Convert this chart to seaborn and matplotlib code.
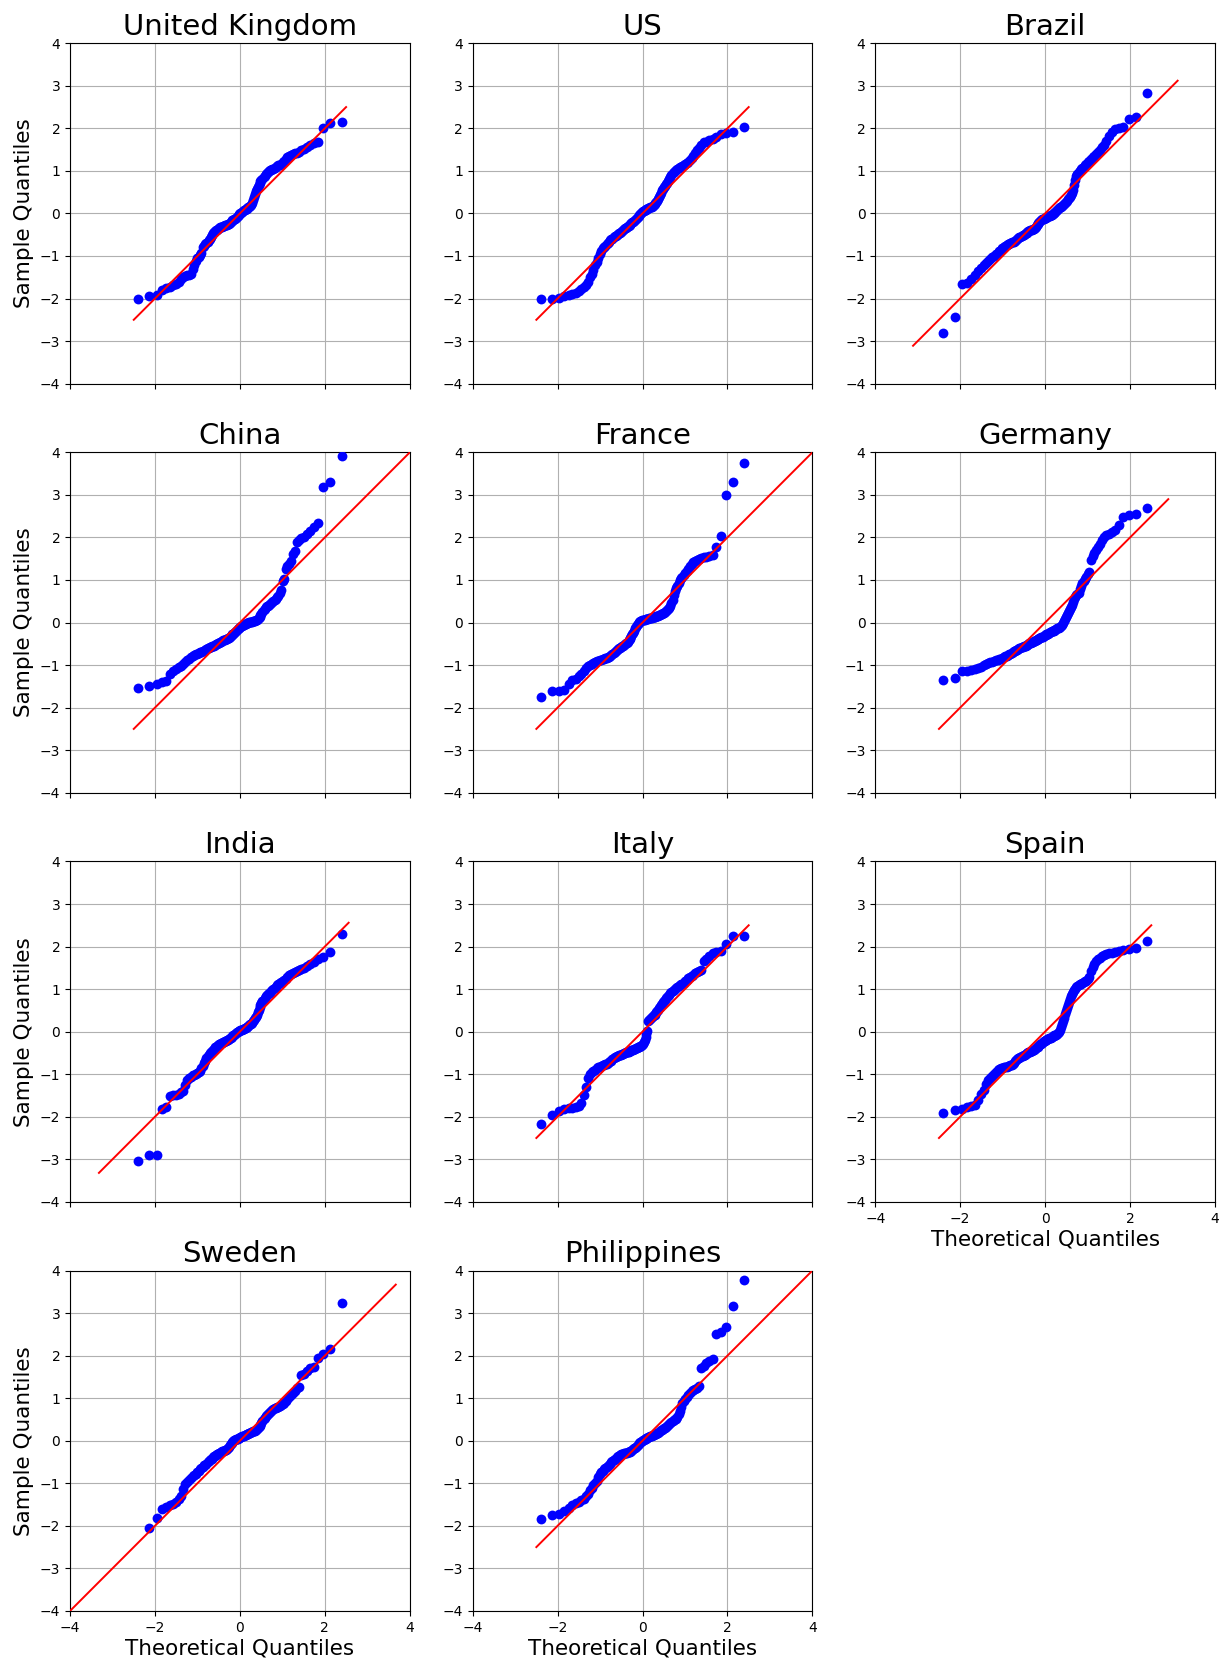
import statistics
import numpy as np
import pandas as pd
import matplotlib
matplotlib.use("Agg")
import matplotlib.pyplot as plt
import seaborn as sns

# Sorted standardized sample values per country (120 observations each)
countries = ["United Kingdom", "US", "Brazil", "China", "France", "Germany",
             "India", "Italy", "Spain", "Sweden", "Philippines"]

uk = [-2.01, -1.94, -1.92, -1.80, -1.75, -1.73, -1.69, -1.66, -1.60, -1.55,
      -1.50, -1.47, -1.45, -1.44, -1.42, -1.30, -1.22, -1.12, -1.05, -1.02,
      -0.98, -0.93, -0.80, -0.76, -0.72, -0.69, -0.66, -0.63, -0.60, -0.55,
      -0.50, -0.46, -0.44, -0.42, -0.40, -0.38, -0.36, -0.35, -0.33, -0.32,
      -0.31, -0.30, -0.29, -0.28, -0.27, -0.26, -0.25, -0.24, -0.22, -0.20,
      -0.18, -0.16, -0.15, -0.13, -0.12, -0.10, -0.08, -0.06, -0.04, -0.02,
      0.00, 0.02, 0.04, 0.05, 0.07, 0.09, 0.10, 0.11, 0.13, 0.14,
      0.15, 0.17, 0.19, 0.25, 0.32, 0.38, 0.45, 0.52, 0.58, 0.63,
      0.67, 0.72, 0.76, 0.79, 0.82, 0.85, 0.89, 0.92, 0.95, 0.97,
      0.99, 1.01, 1.03, 1.04, 1.05, 1.07, 1.09, 1.11, 1.13, 1.15,
      1.17, 1.20, 1.24, 1.28, 1.32, 1.35, 1.37, 1.39, 1.41, 1.43,
      1.45, 1.48, 1.52, 1.57, 1.62, 1.65, 1.69, 2.00, 2.12, 2.16]

us = [-2.01, -2.00, -1.98, -1.93, -1.91, -1.89, -1.86, -1.82, -1.78, -1.74,
      -1.68, -1.62, -1.50, -1.42, -1.32, -1.22, -1.14, -1.05, -0.96, -0.88,
      -0.82, -0.79, -0.76, -0.73, -0.69, -0.66, -0.63, -0.61, -0.59, -0.56,
      -0.54, -0.52, -0.50, -0.48, -0.47, -0.45, -0.43, -0.41, -0.39, -0.37,
      -0.35, -0.34, -0.32, -0.30, -0.29, -0.27, -0.25, -0.23, -0.21, -0.19,
      -0.17, -0.15, -0.13, -0.11, -0.09, -0.06, -0.03, -0.01, 0.01, 0.03,
      0.05, 0.06, 0.08, 0.09, 0.10, 0.11, 0.12, 0.13, 0.14, 0.15,
      0.16, 0.18, 0.20, 0.22, 0.24, 0.27, 0.30, 0.34, 0.39, 0.44,
      0.49, 0.54, 0.58, 0.62, 0.65, 0.69, 0.72, 0.76, 0.80, 0.86,
      0.91, 0.95, 0.98, 1.00, 1.02, 1.04, 1.06, 1.08, 1.10, 1.12,
      1.14, 1.16, 1.19, 1.22, 1.26, 1.30, 1.36, 1.42, 1.48, 1.54,
      1.62, 1.67, 1.69, 1.72, 1.76, 1.80, 1.86, 1.90, 1.91, 2.03]

brazil = [-2.82, -2.43, -1.65, -1.63, -1.55, -1.45, -1.35, -1.28, -1.22, -1.16,
          -1.11, -1.06, -1.02, -0.99, -0.96, -0.93, -0.88, -0.85, -0.82, -0.79,
          -0.77, -0.75, -0.73, -0.71, -0.70, -0.68, -0.67, -0.66, -0.64, -0.62,
          -0.60, -0.58, -0.56, -0.55, -0.53, -0.51, -0.50, -0.48, -0.46, -0.45,
          -0.44, -0.42, -0.41, -0.40, -0.39, -0.38, -0.37, -0.36, -0.34, -0.31,
          -0.28, -0.25, -0.22, -0.20, -0.18, -0.16, -0.14, -0.13, -0.12, -0.11,
          -0.10, -0.09, -0.08, -0.07, -0.06, -0.05, -0.04, -0.03, -0.01, 0.00,
          0.02, 0.04, 0.06, 0.08, 0.10, 0.12, 0.14, 0.16, 0.18, 0.20,
          0.22, 0.24, 0.27, 0.30, 0.33, 0.36, 0.39, 0.43, 0.48, 0.56,
          0.66, 0.78, 0.87, 0.93, 0.97, 1.00, 1.04, 1.07, 1.10, 1.13,
          1.16, 1.20, 1.24, 1.28, 1.32, 1.36, 1.40, 1.44, 1.49, 1.55,
          1.62, 1.70, 1.82, 1.92, 1.98, 2.00, 2.04, 2.23, 2.27, 2.84]

china = [-1.53, -1.48, -1.45, -1.40, -1.37, -1.20, -1.14, -1.10, -1.05, -1.01,
         -0.97, -0.93, -0.88, -0.85, -0.82, -0.79, -0.77, -0.75, -0.73, -0.72,
         -0.70, -0.69, -0.67, -0.66, -0.64, -0.63, -0.61, -0.59, -0.58, -0.57,
         -0.56, -0.55, -0.54, -0.53, -0.51, -0.50, -0.49, -0.47, -0.46, -0.45,
         -0.44, -0.42, -0.41, -0.40, -0.39, -0.38, -0.37, -0.36, -0.34, -0.32,
         -0.30, -0.28, -0.26, -0.24, -0.22, -0.20, -0.17, -0.15, -0.13, -0.12,
         -0.10, -0.09, -0.07, -0.06, -0.05, -0.04, -0.03, -0.02, -0.01, 0.00,
         0.01, 0.01, 0.02, 0.02, 0.03, 0.03, 0.04, 0.05, 0.07, 0.09,
         0.11, 0.14, 0.17, 0.21, 0.25, 0.29, 0.33, 0.36, 0.38, 0.40,
         0.42, 0.44, 0.46, 0.48, 0.50, 0.53, 0.56, 0.59, 0.63, 0.69,
         0.76, 0.98, 1.02, 1.25, 1.32, 1.38, 1.44, 1.60, 1.68, 1.90,
         1.94, 1.98, 2.02, 2.07, 2.15, 2.24, 2.33, 3.18, 3.31, 3.92]

france = [-1.75, -1.62, -1.60, -1.58, -1.45, -1.36, -1.32, -1.26, -1.20, -1.13,
          -1.07, -1.03, -0.99, -0.97, -0.95, -0.93, -0.91, -0.90, -0.89, -0.88,
          -0.86, -0.85, -0.84, -0.83, -0.81, -0.80, -0.78, -0.76, -0.74, -0.71,
          -0.69, -0.67, -0.65, -0.63, -0.61, -0.59, -0.58, -0.56, -0.54, -0.53,
          -0.51, -0.49, -0.47, -0.45, -0.42, -0.39, -0.36, -0.32, -0.28, -0.24,
          -0.19, -0.14, -0.10, -0.06, -0.03, 0.00, 0.02, 0.03, 0.04, 0.05,
          0.06, 0.07, 0.07, 0.08, 0.08, 0.09, 0.09, 0.10, 0.10, 0.11,
          0.11, 0.12, 0.12, 0.13, 0.14, 0.15, 0.15, 0.16, 0.17, 0.18,
          0.19, 0.20, 0.22, 0.23, 0.25, 0.27, 0.29, 0.31, 0.35, 0.40,
          0.46, 0.54, 0.65, 0.75, 0.82, 0.86, 0.92, 0.99, 1.04, 1.08,
          1.12, 1.17, 1.22, 1.27, 1.32, 1.37, 1.42, 1.45, 1.48, 1.50,
          1.52, 1.53, 1.54, 1.56, 1.58, 1.78, 2.04, 3.00, 3.30, 3.75]

germany = [-1.34, -1.30, -1.15, -1.13, -1.11, -1.09, -1.07, -1.04, -1.00, -0.97,
           -0.95, -0.93, -0.92, -0.91, -0.89, -0.88, -0.86, -0.85, -0.83, -0.81,
           -0.79, -0.78, -0.76, -0.75, -0.73, -0.72, -0.70, -0.68, -0.66, -0.65,
           -0.64, -0.62, -0.61, -0.60, -0.58, -0.57, -0.56, -0.55, -0.54, -0.53,
           -0.52, -0.50, -0.49, -0.48, -0.47, -0.46, -0.45, -0.44, -0.43, -0.41,
           -0.40, -0.39, -0.38, -0.37, -0.36, -0.35, -0.34, -0.33, -0.31, -0.30,
           -0.29, -0.28, -0.27, -0.26, -0.25, -0.23, -0.22, -0.21, -0.20, -0.19,
           -0.18, -0.17, -0.15, -0.14, -0.13, -0.12, -0.11, -0.09, -0.06, -0.02,
           0.04, 0.08, 0.13, 0.18, 0.22, 0.27, 0.32, 0.37, 0.42, 0.48,
           0.55, 0.60, 0.64, 0.67, 0.70, 0.78, 0.85, 0.92, 0.98, 1.03,
           1.08, 1.13, 1.18, 1.48, 1.56, 1.64, 1.70, 1.77, 1.85, 1.94,
           2.00, 2.05, 2.08, 2.12, 2.18, 2.30, 2.48, 2.52, 2.54, 2.69]

india = [-3.04, -2.91, -2.90, -1.82, -1.78, -1.52, -1.50, -1.48, -1.46, -1.43,
         -1.40, -1.25, -1.14, -1.10, -1.06, -1.03, -1.01, -0.99, -0.97, -0.95,
         -0.92, -0.86, -0.80, -0.74, -0.68, -0.62, -0.58, -0.54, -0.51, -0.48,
         -0.45, -0.42, -0.40, -0.37, -0.35, -0.33, -0.31, -0.29, -0.28, -0.27,
         -0.26, -0.25, -0.24, -0.23, -0.21, -0.20, -0.19, -0.17, -0.16, -0.14,
         -0.13, -0.11, -0.09, -0.07, -0.06, -0.04, -0.02, 0.00, 0.01, 0.02,
         0.03, 0.04, 0.05, 0.06, 0.07, 0.08, 0.09, 0.10, 0.11, 0.13,
         0.15, 0.17, 0.19, 0.21, 0.24, 0.27, 0.31, 0.35, 0.40, 0.46,
         0.52, 0.57, 0.62, 0.67, 0.71, 0.75, 0.79, 0.83, 0.86, 0.88,
         0.90, 0.92, 0.95, 0.98, 1.00, 1.03, 1.06, 1.09, 1.12, 1.15,
         1.17, 1.19, 1.21, 1.24, 1.28, 1.32, 1.36, 1.39, 1.41, 1.43,
         1.45, 1.47, 1.50, 1.55, 1.60, 1.64, 1.70, 1.76, 1.88, 2.30]

italy = [-2.18, -1.95, -1.87, -1.83, -1.80, -1.79, -1.77, -1.74, -1.68, -1.50,
         -1.30, -1.10, -1.00, -0.96, -0.92, -0.89, -0.86, -0.84, -0.82, -0.80,
         -0.79, -0.78, -0.77, -0.76, -0.74, -0.72, -0.70, -0.68, -0.65, -0.62,
         -0.60, -0.59, -0.58, -0.57, -0.56, -0.55, -0.54, -0.53, -0.52, -0.51,
         -0.50, -0.49, -0.48, -0.47, -0.47, -0.46, -0.45, -0.44, -0.43, -0.42,
         -0.41, -0.40, -0.39, -0.38, -0.37, -0.36, -0.35, -0.34, -0.33, -0.31,
         -0.29, -0.25, -0.20, -0.13, -0.05, 0.02, 0.25, 0.28, 0.30, 0.32,
         0.34, 0.36, 0.38, 0.40, 0.42, 0.45, 0.48, 0.51, 0.55, 0.59,
         0.62, 0.66, 0.69, 0.72, 0.75, 0.78, 0.81, 0.84, 0.87, 0.90,
         0.93, 0.96, 0.99, 1.01, 1.03, 1.05, 1.07, 1.09, 1.11, 1.13,
         1.15, 1.18, 1.21, 1.25, 1.28, 1.31, 1.34, 1.37, 1.40, 1.43,
         1.46, 1.66, 1.71, 1.78, 1.84, 1.87, 1.90, 2.06, 2.24, 2.25]

spain = [-1.92, -1.85, -1.81, -1.78, -1.75, -1.72, -1.60, -1.47, -1.38, -1.22,
         -1.14, -1.10, -1.04, -0.99, -0.94, -0.90, -0.88, -0.86, -0.85, -0.84,
         -0.83, -0.82, -0.81, -0.80, -0.79, -0.78, -0.76, -0.73, -0.70, -0.67,
         -0.65, -0.63, -0.61, -0.60, -0.58, -0.57, -0.55, -0.54, -0.52, -0.51,
         -0.50, -0.49, -0.48, -0.47, -0.46, -0.45, -0.44, -0.43, -0.41, -0.39,
         -0.37, -0.35, -0.33, -0.31, -0.29, -0.28, -0.26, -0.24, -0.22, -0.21,
         -0.20, -0.19, -0.18, -0.17, -0.16, -0.15, -0.14, -0.12, -0.11, -0.10,
         -0.09, -0.08, -0.07, -0.05, -0.03, 0.00, 0.04, 0.10, 0.17, 0.25,
         0.33, 0.41, 0.49, 0.56, 0.63, 0.70, 0.77, 0.83, 0.88, 0.93,
         0.97, 1.01, 1.05, 1.07, 1.09, 1.11, 1.13, 1.15, 1.16, 1.18,
         1.20, 1.23, 1.28, 1.42, 1.52, 1.60, 1.65, 1.70, 1.74, 1.77,
         1.80, 1.82, 1.84, 1.86, 1.88, 1.90, 1.92, 1.95, 1.97, 2.12]

sweden = [-4.20, -2.06, -1.82, -1.60, -1.56, -1.52, -1.48, -1.44, -1.38, -1.30,
          -1.14, -1.02, -0.96, -0.92, -0.88, -0.84, -0.80, -0.77, -0.74, -0.71,
          -0.67, -0.64, -0.61, -0.58, -0.56, -0.54, -0.51, -0.48, -0.46, -0.44,
          -0.42, -0.39, -0.37, -0.35, -0.33, -0.31, -0.30, -0.29, -0.28, -0.26,
          -0.25, -0.24, -0.23, -0.22, -0.21, -0.19, -0.17, -0.14, -0.11, -0.08,
          -0.05, -0.02, 0.00, 0.01, 0.02, 0.03, 0.04, 0.05, 0.06, 0.07,
          0.08, 0.09, 0.10, 0.11, 0.12, 0.13, 0.14, 0.15, 0.16, 0.17,
          0.18, 0.19, 0.20, 0.21, 0.22, 0.23, 0.24, 0.26, 0.28, 0.30,
          0.32, 0.35, 0.38, 0.42, 0.46, 0.50, 0.54, 0.57, 0.60, 0.63,
          0.65, 0.68, 0.70, 0.72, 0.74, 0.76, 0.77, 0.79, 0.80, 0.82,
          0.84, 0.86, 0.89, 0.93, 0.98, 1.03, 1.08, 1.13, 1.18, 1.23,
          1.27, 1.55, 1.58, 1.65, 1.70, 1.73, 1.95, 2.05, 2.16, 3.23]

philippines = [-1.84, -1.75, -1.72, -1.66, -1.57, -1.51, -1.47, -1.43, -1.40, -1.36,
               -1.30, -1.25, -1.16, -1.10, -1.04, -0.99, -0.94, -0.86, -0.79, -0.74,
               -0.70, -0.67, -0.64, -0.61, -0.59, -0.57, -0.54, -0.51, -0.48, -0.46,
               -0.44, -0.42, -0.39, -0.37, -0.35, -0.33, -0.32, -0.31, -0.30, -0.29,
               -0.29, -0.28, -0.28, -0.27, -0.27, -0.26, -0.25, -0.24, -0.22, -0.20,
               -0.18, -0.16, -0.14, -0.12, -0.10, -0.08, -0.06, -0.04, -0.02, -0.01,
               0.01, 0.02, 0.03, 0.04, 0.06, 0.07, 0.08, 0.09, 0.10, 0.11,
               0.12, 0.13, 0.14, 0.15, 0.16, 0.17, 0.18, 0.19, 0.21, 0.23,
               0.25, 0.26, 0.28, 0.29, 0.31, 0.33, 0.35, 0.37, 0.39, 0.41,
               0.43, 0.46, 0.48, 0.50, 0.52, 0.56, 0.62, 0.70, 0.80, 0.88,
               0.93, 0.97, 1.02, 1.07, 1.12, 1.16, 1.19, 1.22, 1.25, 1.28,
               1.72, 1.76, 1.83, 1.88, 1.91, 2.52, 2.55, 2.67, 3.16, 3.78]

samples = [uk, us, brazil, china, france, germany, india, italy, spain,
           sweden, philippines]

# End points of the 45-degree reference line for each country
line_lo = [-2.5, -2.5, -3.11, -2.5, -2.5, -2.5, -3.32, -2.5, -2.5, -4.3, -2.5]
line_hi = [2.5, 2.5, 3.12, 4.3, 4.2, 2.9, 2.56, 2.5, 2.5, 3.67, 4.1]

y_ticks = [-4, -3, -2, -1, 0, 1, 2, 3, 4]
x_ticks = [-4, -2, 0, 2, 4]

fig, axes = plt.subplots(4, 3, figsize=(12.31, 16.64), dpi=100)
fig.subplots_adjust(left=0.0569, right=0.987, top=0.974, bottom=0.0319,
                    wspace=0.185, hspace=0.202)

nd = statistics.NormalDist()
bottom_panels = {"Spain", "Sweden", "Philippines"}

for k, (name, vals) in enumerate(zip(countries, samples)):
    ax = axes.flat[k]
    n = len(vals)
    theo = [nd.inv_cdf(i / (n + 1)) for i in range(1, n + 1)]
    df = pd.DataFrame({"theoretical": theo, "sample": sorted(vals)})
    sns.scatterplot(data=df, x="theoretical", y="sample", ax=ax,
                    color="blue", s=50, linewidth=0, zorder=3)
    ref = pd.DataFrame({"x": [line_lo[k], line_hi[k]],
                        "y": [line_lo[k], line_hi[k]]})
    sns.lineplot(data=ref, x="x", y="y", ax=ax, color="red",
                 linewidth=1.4, zorder=4)
    ax.set_xlim(-4, 4)
    ax.set_ylim(-4, 4)
    ax.set_xticks(x_ticks)
    ax.set_yticks(y_ticks)
    ax.grid(True, color="#b0b0b0", linewidth=0.8)
    ax.set_axisbelow(True)
    ax.set_title(name, fontsize=21)
    ax.tick_params(labelsize=10)
    if k % 3 == 0:
        ax.set_ylabel("Sample Quantiles", fontsize=15.5)
    else:
        ax.set_ylabel("")
    if name in bottom_panels:
        ax.set_xlabel("Theoretical Quantiles", fontsize=15.5, labelpad=3)
    else:
        ax.set_xlabel("")
        ax.tick_params(labelbottom=False)

axes.flat[11].remove()

fig.savefig("out.png", dpi=100)
